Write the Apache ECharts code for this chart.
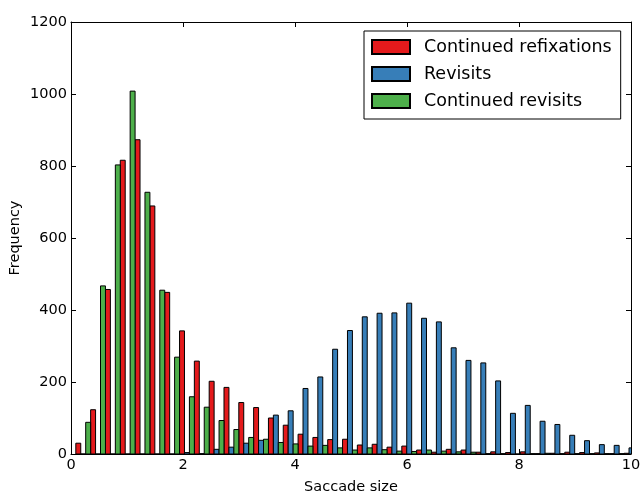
<!DOCTYPE html>
<html>
<head>
<meta charset="utf-8">
<script src="https://cdn.jsdelivr.net/npm/echarts@6/dist/echarts.min.js"></script>
<style>
  html, body { margin: 0; padding: 0; background: #fff; }
  #chart { width: 641px; height: 492px; }
</style>
</head>
<body>
<div id="chart"></div>
<script>
// Histogram bins: left edge of the first bin and the common bin width
const binStart = 0.086;
const binWidth = 0.2646;

// Counts per bin for each group
const continuedRefixations = [30, 123, 457, 816, 873, 689, 449, 342, 258, 202, 185, 143, 129, 100, 80, 55, 46, 40, 41, 25, 27, 19, 22, 11, 5, 13, 11, 5, 6, 4, 6, 1, 2, 5, 4, 3, 1, 2];
const revisits = [0, 0, 0, 0, 0, 0, 0, 4, 1, 13, 19, 30, 38, 108, 120, 182, 214, 291, 343, 381, 391, 392, 419, 377, 367, 295, 260, 253, 203, 113, 135, 91, 82, 52, 37, 26, 24, 17];
const continuedRevisits = [88, 467, 803, 1008, 727, 455, 269, 159, 130, 93, 68, 46, 41, 32, 28, 22, 24, 17, 11, 17, 12, 8, 7, 11, 8, 6, 5, 1, 1, 0, 1, 2, 1, 1, 1, 1, 1, 1];

const seriesNames = ['Continued refixations', 'Revisits', 'Continued revisits'];
const seriesColors = ['#e41a1c', '#377eb8', '#4daf4a'];
const seriesCounts = [continuedRefixations, revisits, continuedRevisits];

const xTicks = { min: 0, max: 10, interval: 2 };
const yTicks = { min: 0, max: 1200, interval: 200 };

const FONT = 'DejaVu Sans';

// Each bin is split into three side-by-side bars, one per group
function barData(groupIndex) {
  const counts = seriesCounts[groupIndex];
  const sub = binWidth / seriesCounts.length;
  return counts.map((c, k) => {
    const left = binStart + k * binWidth + groupIndex * sub;
    return [left, left + sub, c];
  });
}

function renderBar(color) {
  return function (params, api) {
    const p0 = api.coord([api.value(0), api.value(2)]);
    const p1 = api.coord([api.value(1), 0]);
    return {
      type: 'rect',
      shape: { x: p0[0], y: p0[1], width: p1[0] - p0[0], height: p1[1] - p0[1] },
      style: { fill: color, stroke: '#000', lineWidth: 1 }
    };
  };
}

const plain = v => String(v);
const tickStyle = () => ({ show: true, inside: true, length: 5, lineStyle: { color: '#000', width: 1 } });
const lineStyle = () => ({ show: true, onZero: false, lineStyle: { color: '#000', width: 1 } });

const chart = echarts.init(document.getElementById('chart'), null, { renderer: 'canvas' });

chart.setOption({
  animation: false,
  backgroundColor: '#fff',
  textStyle: { fontFamily: FONT },
  grid: { left: 71, right: 10, top: 22, bottom: 38, containLabel: false, outerBoundsMode: 'none' },
  xAxis: [
    {
      type: 'value', position: 'bottom', min: xTicks.min, max: xTicks.max, interval: xTicks.interval,
      name: 'Saccade size', nameLocation: 'middle', nameGap: 26, nameMoveOverlap: false,
      nameTextStyle: { fontFamily: FONT, fontSize: 14.5, color: '#000' },
      axisLine: lineStyle(), axisTick: tickStyle(), splitLine: { show: false },
      axisLabel: { fontFamily: FONT, fontSize: 14.5, color: '#000', margin: 4, formatter: plain }
    },
    {
      type: 'value', position: 'top', min: xTicks.min, max: xTicks.max, interval: xTicks.interval,
      axisLine: lineStyle(), axisTick: tickStyle(), splitLine: { show: false },
      axisLabel: { show: false }
    }
  ],
  yAxis: [
    {
      type: 'value', position: 'left', min: yTicks.min, max: yTicks.max, interval: yTicks.interval,
      name: 'Frequency', nameLocation: 'middle', nameGap: 48, nameRotate: 90, nameMoveOverlap: false,
      nameTextStyle: { fontFamily: FONT, fontSize: 14.5, color: '#000' },
      axisLine: lineStyle(), axisTick: tickStyle(), splitLine: { show: false },
      axisLabel: { fontFamily: FONT, fontSize: 14.5, color: '#000', margin: 4, formatter: plain }
    },
    {
      type: 'value', position: 'right', min: yTicks.min, max: yTicks.max, interval: yTicks.interval,
      axisLine: lineStyle(), axisTick: tickStyle(), splitLine: { show: false },
      axisLabel: { show: false }
    }
  ],
  legend: {
    orient: 'vertical',
    left: 364, top: 31,
    padding: [7, 9, 9, 7],
    itemGap: 9,
    itemWidth: 38, itemHeight: 14,
    icon: 'rect',
    backgroundColor: '#fff',
    borderColor: '#000', borderWidth: 1, borderRadius: 0,
    textStyle: { fontFamily: FONT, fontSize: 17.5, color: '#000', lineHeight: 17, padding: [0, 0, 0, 9] },
    data: seriesNames
  },
  series: seriesNames.map((name, i) => ({
    name: name,
    type: 'custom',
    xAxisIndex: 0, yAxisIndex: 0,
    clip: true,
    itemStyle: { color: seriesColors[i], borderColor: '#000', borderWidth: 1 },
    renderItem: renderBar(seriesColors[i]),
    encode: { x: [0, 1], y: 2 },
    data: barData(i)
  }))
});
</script>
</body>
</html>
